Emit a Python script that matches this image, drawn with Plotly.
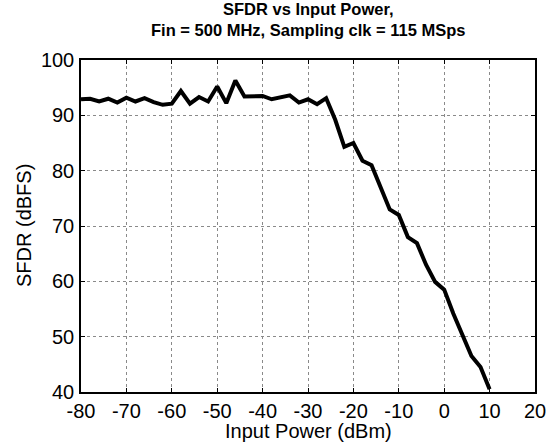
import plotly.graph_objects as go

input_power = [-80, -78, -76, -74, -72, -70, -68, -66, -64, -62, -60, -58, -56, -54, -52,
               -50, -48, -46, -44, -42, -40, -38, -36, -34, -32, -30, -28, -26, -24, -22,
               -20, -18, -16, -14, -12, -10, -8, -6, -4, -2, 0, 2, 4, 6, 8, 10]
sfdr = [92.9, 93.0, 92.5, 93.0, 92.3, 93.2, 92.5, 93.1, 92.4, 91.9, 92.1, 94.4, 92.1, 93.3, 92.5,
        95.2, 92.2, 96.3, 93.4, 93.5, 93.5, 92.9, 93.2, 93.6, 92.3, 92.9, 92.0, 93.1, 89.2, 84.3,
        85.0, 81.8, 81.0, 77.1, 73.0, 72.0, 68.0, 66.9, 63.0, 59.9, 58.5, 54.2, 50.2, 46.5, 44.5, 40.5]

x_ticks = [-80, -70, -60, -50, -40, -30, -20, -10, 0, 10, 20]
y_ticks = [40, 50, 60, 70, 80, 90, 100]

title_text = "<b>SFDR vs Input Power,<br>Fin = 500 MHz, Sampling clk = 115 MSps</b>"
x_title = "Input Power (dBm)"
y_title = "SFDR (dBFS)"

font_family = "Liberation Sans, Arial, sans-serif"

fig = go.Figure()
fig.add_trace(go.Scatter(x=input_power, y=sfdr, mode="lines",
                         line=dict(color="black", width=4), showlegend=False))

axis_common = dict(
    showline=True, linecolor="black", linewidth=1.5, mirror="ticks",
    ticks="inside", ticklen=4, tickcolor="black", tickwidth=1,
    showgrid=True, gridcolor="#8a8a8a", gridwidth=1, griddash="dot",
    zeroline=False, automargin=False,
    tickfont=dict(family=font_family, size=20, color="black"),
)

fig.update_xaxes(range=[-80, 20], tickvals=x_ticks, ticktext=[str(v) for v in x_ticks],
                 ticklabelstandoff=0, **axis_common)
fig.update_yaxes(range=[40, 100], tickvals=y_ticks, ticktext=[str(v) for v in y_ticks],
                 ticklabelstandoff=1, **axis_common)

fig.update_layout(
    width=552, height=444,
    margin=dict(l=81, r=17, t=60, b=52, autoexpand=False),
    paper_bgcolor="white", plot_bgcolor="white",
    annotations=[
        dict(text=title_text, xref="paper", yref="paper", x=0.5, y=1,
             xanchor="center", yanchor="bottom", yshift=19, showarrow=False,
             align="center", font=dict(family=font_family, size=16.5, color="black")),
        dict(text=x_title, xref="paper", yref="paper", x=0.5, y=0,
             xanchor="center", yanchor="middle", yshift=-39, showarrow=False,
             font=dict(family=font_family, size=20, color="black")),
        dict(text=y_title, xref="paper", yref="paper", x=0, y=0.5, textangle=-90,
             xanchor="center", yanchor="middle", xshift=-57, showarrow=False,
             font=dict(family=font_family, size=20, color="black")),
    ],
)

fig.write_html("out.html", config={"displayModeBar": False},
               post_script="document.body.style.margin='0';")
